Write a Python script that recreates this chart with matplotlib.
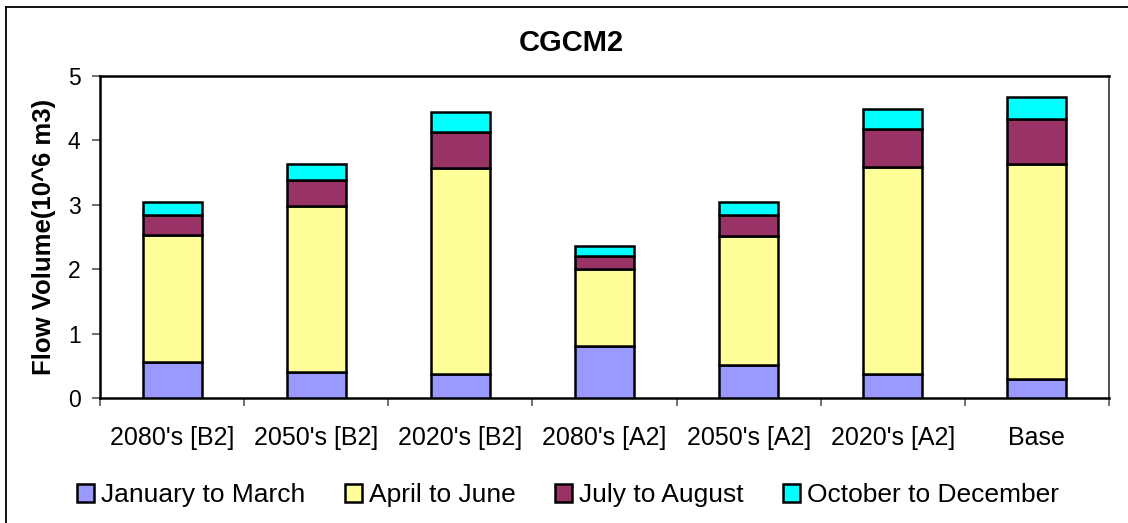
import matplotlib
matplotlib.use("Agg")
import matplotlib.pyplot as plt
from matplotlib.lines import Line2D
import numpy as np

categories = ["2080's [B2]", "2050's [B2]", "2020's [B2]", "2080's [A2]",
              "2050's [A2]", "2020's [A2]", "Base"]
series_names = ["January to March", "April to June", "July to August", "October to December"]
jan_mar = [0.56, 0.41, 0.37, 0.81, 0.52, 0.37, 0.29]
apr_jun = [1.97, 2.57, 3.20, 1.19, 2.00, 3.22, 3.35]
jul_aug = [0.315, 0.41, 0.56, 0.21, 0.325, 0.585, 0.69]
oct_dec = [0.20, 0.25, 0.305, 0.155, 0.20, 0.32, 0.34]
colors = ["#9999FF", "#FFFF99", "#993366", "#00FFFF"]

plt.rcParams['font.family'] = ['Liberation Sans', 'DejaVu Sans']

fig = plt.figure(figsize=(11.28, 5.23), dpi=100)
ax = fig.add_axes([100/1128, 1 - 398/523, (1109-100)/1128, (398-76)/523])

x = np.arange(len(categories))
bottom = np.zeros(len(categories))
handles = []
for vals, col, name in zip([jan_mar, apr_jun, jul_aug, oct_dec], colors, series_names):
    b = ax.bar(x, vals, width=0.41, bottom=bottom, color=col, edgecolor='black',
               linewidth=1.8, label=name, zorder=3)
    handles.append(b)
    bottom += np.array(vals)

ax.set_xlim(-0.5, len(categories) - 0.5)
ax.set_ylim(0, 5)
ax.set_yticks([0, 1, 2, 3, 4, 5])
ax.set_xticks(x)
ax.set_xticklabels(categories, fontsize=18)
ax.set_xticks(np.arange(-0.5, len(categories), 1.0), minor=True)
ax.tick_params(axis='x', which='major', length=0, pad=20)
ax.tick_params(axis='x', which='minor', length=6, width=1.2, color='#555555', direction='out')
ax.tick_params(axis='y', labelsize=16.5, length=6, width=1.2, direction='out', color='#555555', pad=8)

for s in ['left', 'bottom', 'top']:
    ax.spines[s].set_linewidth(1.8)
    ax.spines[s].set_color('black')
ax.spines['right'].set_linewidth(1.2)
ax.spines['right'].set_color('#333333')

ax.set_ylabel("Flow Volume(10^6 m3)", fontsize=18.5, fontweight='bold')
ax.yaxis.set_label_coords(-44/1009, 0.5)
fig.text(571/1128, 1 - 43/523, "CGCM2", fontsize=21, fontweight='bold', ha='center', va='center')

leg = fig.legend(handles=handles, labels=series_names, loc='center', ncol=4,
                 bbox_to_anchor=(568/1128, 1 - 495/523), frameon=False, fontsize=19,
                 handlelength=0.65, handleheight=0.65, handletextpad=0.25, columnspacing=1.5)

# figure border (top and left visible)
fig.add_artist(Line2D([5.5/1128, 5.5/1128], [0, 1 - 6.5/523], transform=fig.transFigure,
                      color='black', linewidth=1.3))
fig.add_artist(Line2D([5.5/1128, 1.0], [1 - 6.5/523, 1 - 6.5/523], transform=fig.transFigure,
                      color='black', linewidth=1.3))

fig.savefig("out.png", dpi=100)
